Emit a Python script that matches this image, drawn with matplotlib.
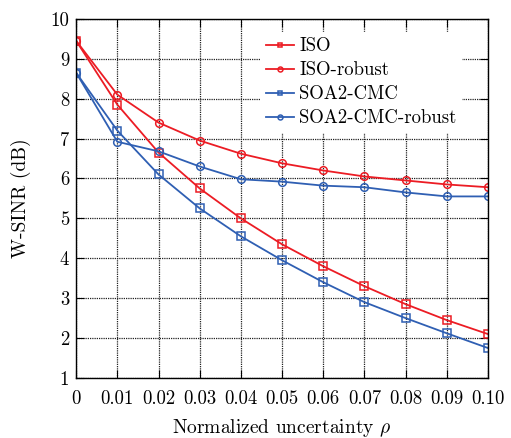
import matplotlib

matplotlib.use("Agg")
import matplotlib.pyplot as plt

plt.rcParams["font.family"] = "serif"
plt.rcParams["font.serif"] = ["cmr10"]
plt.rcParams["mathtext.fontset"] = "cm"
plt.rcParams["axes.unicode_minus"] = False

rho = [0, 0.01, 0.02, 0.03, 0.04, 0.05, 0.06, 0.07, 0.08, 0.09, 0.10]
xtick_labels = ["0", "0.01", "0.02", "0.03", "0.04", "0.05", "0.06", "0.07", "0.08", "0.09", "0.10"]

iso = [9.45, 7.85, 6.65, 5.75, 5.0, 4.35, 3.8, 3.3, 2.85, 2.45, 2.1]
iso_robust = [9.45, 8.1, 7.4, 6.95, 6.62, 6.38, 6.2, 6.05, 5.95, 5.85, 5.78]
soa2 = [8.65, 7.2, 6.1, 5.25, 4.55, 3.95, 3.4, 2.9, 2.5, 2.12, 1.75]
soa2_robust = [8.65, 6.92, 6.68, 6.3, 5.98, 5.92, 5.82, 5.78, 5.65, 5.55, 5.55]

RED = "#ec1c24"
BLUE = "#2f5fb3"

fig = plt.figure(figsize=(5.11, 4.38), dpi=100)
ax = fig.add_axes([0.149, 0.137, 0.806, 0.82])

style = dict(linewidth=1.3, markersize=5.5, markerfacecolor="none", markeredgewidth=1.1)
ax.plot(rho, iso, color=RED, marker="s", label="ISO", **style)
ax.plot(rho, iso_robust, color=RED, marker="o", label="ISO-robust", **style)
ax.plot(rho, soa2, color=BLUE, marker="s", label="SOA2-CMC", **style)
ax.plot(rho, soa2_robust, color=BLUE, marker="o", label="SOA2-CMC-robust", **style)

ax.set_xlim(0, 0.10)
ax.set_ylim(1, 10)
ax.set_xticks(rho)
ax.set_xticklabels(xtick_labels)
ax.set_yticks(range(1, 11))
ax.grid(True, color="#222222", linestyle=(0, (1, 0.8)), linewidth=0.9)
ax.tick_params(direction="in", labelsize=13.5, top=True, right=True, length=6)
ax.tick_params(axis="x", pad=9)
ax.tick_params(axis="y", pad=5)
for s in ax.spines.values():
    s.set_linewidth(1.0)

ax.set_xlabel(r"Normalized uncertainty $\rho$", fontsize=14, labelpad=6)
ax.set_ylabel("W-SINR (dB)", fontsize=14, labelpad=14)

leg = ax.legend(loc="upper right", bbox_to_anchor=(0.935, 0.962), fontsize=13.5,
                frameon=True, fancybox=False, framealpha=1, edgecolor="white",
                handlelength=1.5, handletextpad=0.3, borderpad=0.25,
                labelspacing=0.33, markerscale=0.65, borderaxespad=0)

fig.savefig("out.png", dpi=100)
